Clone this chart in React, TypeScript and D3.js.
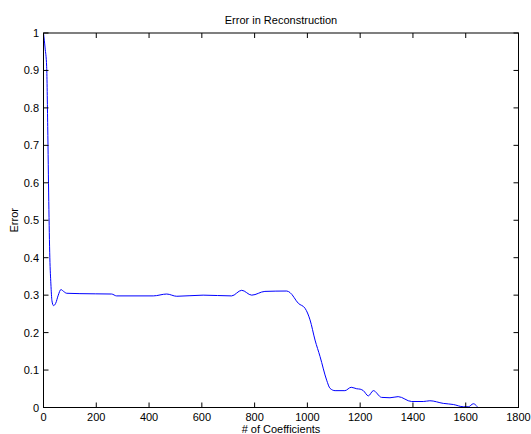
import React, { useEffect, useRef } from 'react';
import * as d3 from 'd3';

// # of coefficients vs reconstruction error
const coeffs = [0, 6, 12, 16, 20, 24, 28, 32, 38, 46, 56, 66, 76, 88, 138, 258, 277, 416, 467, 505, 605, 713, 751, 789, 839, 922, 934, 966, 991, 1010, 1029, 1048, 1073, 1086, 1105, 1142, 1166, 1187, 1200, 1212, 1231, 1250, 1281, 1313, 1344, 1395, 1439, 1464, 1515, 1553, 1591, 1610, 1629, 1644];
const errors = [1, 0.96, 0.91, 0.75, 0.55, 0.4, 0.33, 0.285, 0.272, 0.278, 0.3, 0.315, 0.31, 0.305, 0.304, 0.303, 0.298, 0.298, 0.303, 0.297, 0.3, 0.298, 0.313, 0.3, 0.31, 0.311, 0.307, 0.278, 0.265, 0.234, 0.18, 0.136, 0.073, 0.051, 0.045, 0.045, 0.054, 0.05, 0.049, 0.045, 0.031, 0.045, 0.027, 0.026, 0.029, 0.016, 0.016, 0.018, 0.011, 0.008, 0.002, 0.002, 0.01, 0.002];

const xTicks = [0, 200, 400, 600, 800, 1000, 1200, 1400, 1600, 1800];
const yTicks = [0, 0.1, 0.2, 0.3, 0.4, 0.5, 0.6, 0.7, 0.8, 0.9, 1];

const W = 531;
const H = 434;
const left = 43.5;
const right = 518.5;
const top = 33;
const bottom = 407.5;

const App = () => {
  const svgRef = useRef<SVGSVGElement>(null);

  useEffect(() => {
    const svg = d3.select(svgRef.current);
    svg.selectAll('*').remove();

    const x = d3.scaleLinear().domain([0, 1800]).range([left, right]);
    const y = d3.scaleLinear().domain([0, 1]).range([bottom, top]);
    const font = "'Liberation Sans', Arial, sans-serif";

    svg.append('rect')
      .attr('width', W).attr('height', H).attr('fill', '#fff');

    // data line
    const pts = coeffs.map((c, i) => [c, errors[i]] as [number, number]);
    const line = d3.line<[number, number]>()
      .x(d => x(d[0]))
      .y(d => y(d[1]))
      .curve(d3.curveMonotoneX);

    svg.append('path')
      .datum(pts)
      .attr('d', line)
      .attr('fill', 'none')
      .attr('stroke', '#0000ff')
      .attr('stroke-width', 1);

    // box
    svg.append('rect')
      .attr('x', left).attr('y', top)
      .attr('width', right - left).attr('height', bottom - top)
      .attr('fill', 'none').attr('stroke', '#000').attr('stroke-width', 1);

    const tl = 5;
    const g = svg.append('g').attr('stroke', '#000').attr('stroke-width', 1);
    xTicks.forEach(t => {
      g.append('line').attr('x1', x(t)).attr('x2', x(t)).attr('y1', bottom).attr('y2', bottom - tl);
      g.append('line').attr('x1', x(t)).attr('x2', x(t)).attr('y1', top).attr('y2', top + tl);
    });
    yTicks.forEach(t => {
      g.append('line').attr('x1', left).attr('x2', left + tl).attr('y1', y(t)).attr('y2', y(t));
      g.append('line').attr('x1', right).attr('x2', right - tl).attr('y1', y(t)).attr('y2', y(t));
    });

    svg.append('g').selectAll('text')
      .data(xTicks)
      .join('text')
      .attr('x', d => x(d))
      .attr('y', 421)
      .attr('text-anchor', 'middle')
      .attr('font-family', font)
      .attr('font-size', 11)
      .text(d => d);

    svg.append('g').selectAll('text')
      .data(yTicks)
      .join('text')
      .attr('x', 39)
      .attr('y', d => y(d) + 4)
      .attr('text-anchor', 'end')
      .attr('font-family', font)
      .attr('font-size', 11)
      .text(d => d);

    svg.append('text')
      .attr('x', (left + right) / 2).attr('y', 24)
      .attr('text-anchor', 'middle')
      .attr('font-family', font).attr('font-size', 11)
      .text('Error in Reconstruction');

    svg.append('text')
      .attr('x', (left + right) / 2).attr('y', 433)
      .attr('text-anchor', 'middle')
      .attr('font-family', font).attr('font-size', 11)
      .text('# of Coefficients');

    svg.append('text')
      .attr('transform', `translate(18,${(top + bottom) / 2}) rotate(-90)`)
      .attr('text-anchor', 'middle')
      .attr('font-family', font).attr('font-size', 11)
      .text('Error');
  }, []);

  return (
    <svg ref={svgRef} width={W} height={H} style={{ position: 'absolute', left: 0, top: 0 }}></svg>
  );
};

export default App;
